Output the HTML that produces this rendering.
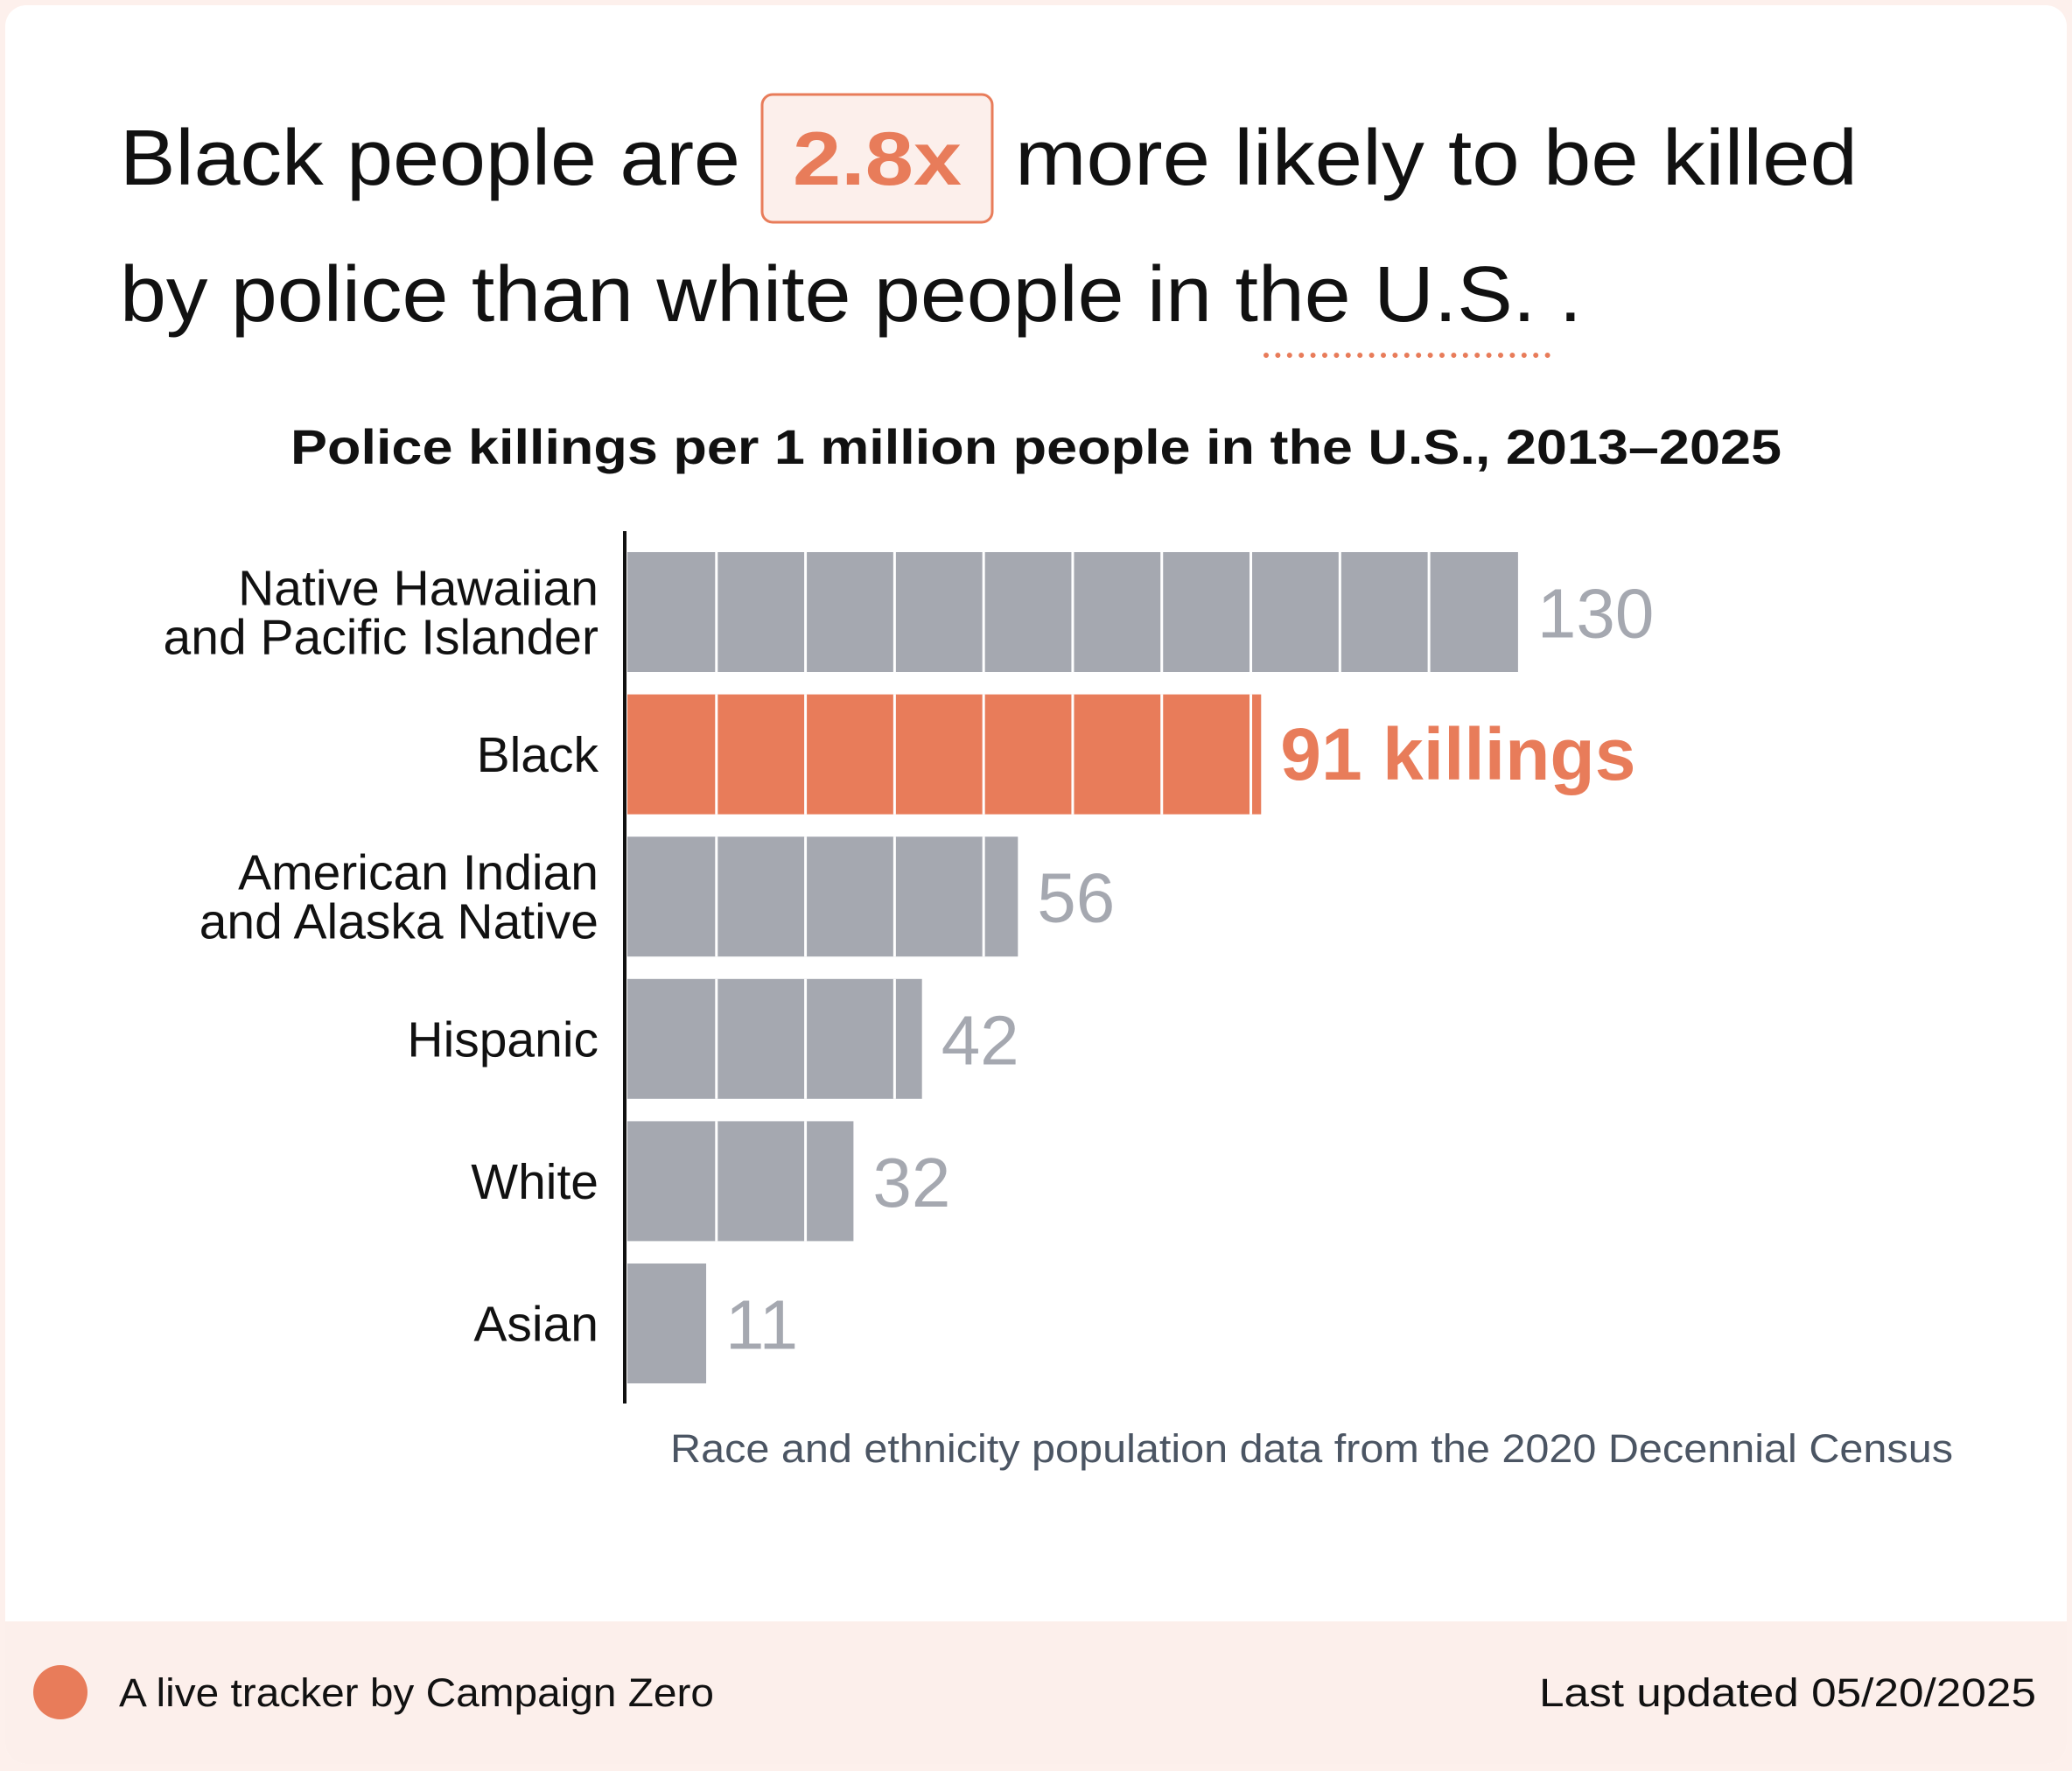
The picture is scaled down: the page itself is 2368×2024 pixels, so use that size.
<!DOCTYPE html>
<html><head><meta charset="utf-8">
<style>
html,body{margin:0;padding:0;background:#fdf0ec;}
svg{display:block;font-family:"Liberation Sans",sans-serif;}
</style></head>
<body>
<svg width="2368" height="2024" viewBox="0 0 2368 2024" xmlns="http://www.w3.org/2000/svg" id="chart">
  <rect x="0" y="0" width="2368" height="2024" fill="#fdf0ec"/>
  <rect x="6" y="6" width="2356" height="2010" rx="24" fill="#ffffff"/>
  <path d="M6 1853 H2362 V1992 a24 24 0 0 1 -24 24 H30 a24 24 0 0 1 -24 -24 Z" fill="#fcefeb"/>

  <text x="137" y="211" font-size="90" fill="#111" textLength="709" lengthAdjust="spacingAndGlyphs">Black people are</text>
  <rect x="871" y="108" width="263" height="146" rx="12" fill="#fcefeb" stroke="#e87c5a" stroke-width="3"/>
  <text x="906" y="211" font-size="86" font-weight="bold" fill="#e87c5a" textLength="193" lengthAdjust="spacingAndGlyphs">2.8x</text>
  <text x="1160" y="211" font-size="90" fill="#111" textLength="963" lengthAdjust="spacingAndGlyphs">more likely to be killed</text>
  <text x="137" y="367" font-size="90" fill="#111" textLength="1671" lengthAdjust="spacingAndGlyphs">by police than white people in the U.S. .</text>
  <line x1="1447" y1="406" x2="1770" y2="406" stroke="#e87c5a" stroke-width="6" stroke-dasharray="0 13.4" stroke-linecap="round"/>

  <text x="1184" y="530" text-anchor="middle" font-size="56" font-weight="bold" fill="#111" textLength="1704" lengthAdjust="spacingAndGlyphs">Police killings per 1 million people in the U.S., 2013–2025</text>

  <g id="bars"></g>
  <line x1="714" y1="607" x2="714" y2="1604" stroke="#111" stroke-width="4"/>

  <text x="766" y="1671" font-size="45" fill="#4b5563" textLength="1466" lengthAdjust="spacingAndGlyphs">Race and ethnicity population data from the 2020 Decennial Census</text>

  <circle cx="69" cy="1934" r="31" fill="#e87c5a"/>
  <text x="136" y="1950" font-size="45" fill="#111" textLength="680" lengthAdjust="spacingAndGlyphs">A live tracker by Campaign Zero</text>
  <text x="2327" y="1950" text-anchor="end" font-size="45" fill="#111" textLength="568" lengthAdjust="spacingAndGlyphs">Last updated 05/20/2025</text>
</svg>
<script>
const categories = [["Native Hawaiian","and Pacific Islander"],["Black"],["American Indian","and Alaska Native"],["Hispanic"],["White"],["Asian"]];
const values = [130, 92.5, 57, 43, 33, 11.5];
const valueLabels = ["130", "91 killings", "56", "42", "32", "11"];
const highlight = [false, true, false, false, false, false];
const segmentUnits = 13;

const NS = "http://www.w3.org/2000/svg";
const g = document.getElementById('bars');
const x0 = 717, pxPerUnit = 7.83;
const xScale = v => x0 + v * pxPerUnit;
const yTop = i => 631 + i * 162.6;
const barH = 137;

categories.forEach((cat, i) => {
  const y = yTop(i);
  const color = highlight[i] ? "#e87c5a" : "#a5a8b0";
  const bar = document.createElementNS(NS, 'rect');
  bar.setAttribute('x', x0);
  bar.setAttribute('y', y);
  bar.setAttribute('width', xScale(values[i]) - x0);
  bar.setAttribute('height', barH);
  bar.setAttribute('fill', color);
  
  
  g.appendChild(bar);
  for (let u = segmentUnits; u < values[i]; u += segmentUnits) {
    const sep = document.createElementNS(NS, 'rect');
    sep.setAttribute('x', xScale(u) - 1.5);
    sep.setAttribute('y', y);
    sep.setAttribute('width', 3);
    sep.setAttribute('height', barH);
    sep.setAttribute('fill', '#ffffff');
    
    
    g.appendChild(sep);
  }
  const lbl = document.createElementNS(NS, 'text');
  lbl.setAttribute('x', 684);
  lbl.setAttribute('text-anchor', 'end');
  lbl.setAttribute('font-size', '57');
  lbl.setAttribute('fill', '#111');
  
  
  const cy = y + barH / 2;
  const lineH = 56;
  const startY = cy + 20 - (cat.length - 1) * lineH / 2;
  cat.forEach((line, k) => {
    const ts = document.createElementNS(NS, 'tspan');
    ts.setAttribute('x', 684);
    ts.setAttribute('y', startY + k * lineH);
    ts.textContent = line;
    lbl.appendChild(ts);
  });
  g.appendChild(lbl);
  const val = document.createElementNS(NS, 'text');
  val.setAttribute('x', xScale(values[i]) + 22);
  val.setAttribute('y', cy + 29);
  val.setAttribute('font-size', highlight[i] ? '84' : '80');
  val.setAttribute('fill', color);
  if (highlight[i]) val.setAttribute('font-weight', 'bold');
  
  
  val.textContent = valueLabels[i];
  g.appendChild(val);
});
</script>
</body></html>
